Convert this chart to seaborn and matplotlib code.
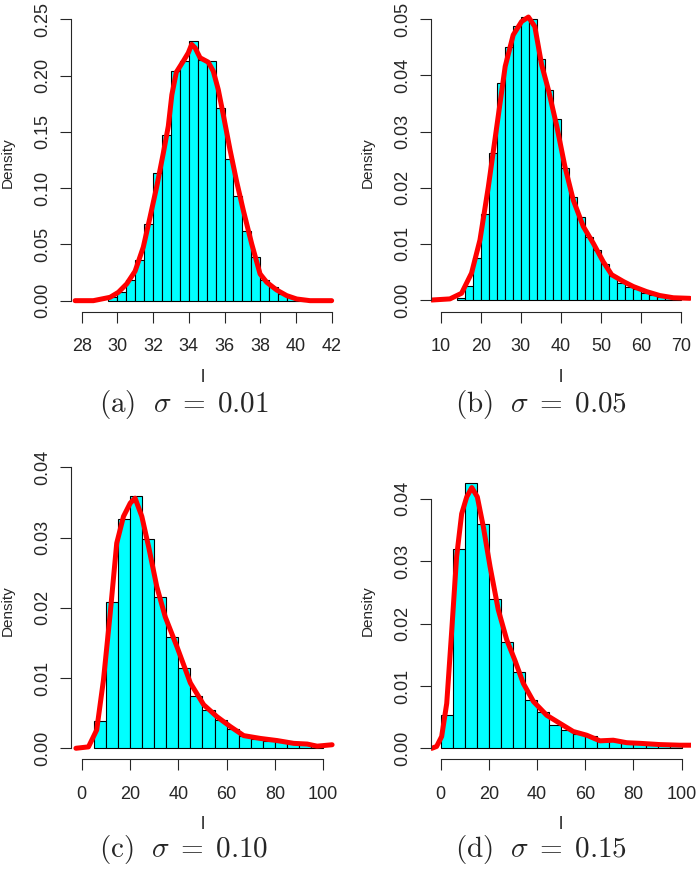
import numpy as np
import pandas as pd
import seaborn as sns
import matplotlib.pyplot as plt
from matplotlib.ticker import FormatStrFormatter

sns.set_style('ticks')
plt.rcParams['font.family'] = ['Liberation Sans', 'DejaVu Sans']
plt.rcParams['mathtext.fontset'] = 'cm'

# (a) sigma = 0.01 : histogram bins of 0.5 starting at 29.5
a_bin_start, a_bin_width = 29.5, 0.5
a_hist = [0.003, 0.008, 0.018, 0.036, 0.068, 0.113, 0.147, 0.204, 0.213, 0.231, 0.214,
          0.2125, 0.171, 0.126, 0.093, 0.062, 0.039, 0.018, 0.0125, 0.006, 0.003, 0.001]
a_kde_x = [27.63, 28.65, 29.59, 30.05, 30.52, 30.99, 31.45, 31.83, 32.20, 32.57, 32.85, 33.05,
           33.3, 33.69, 33.97, 34.16, 34.35, 34.63, 35.09, 35.37, 35.65, 35.93, 36.31, 36.68,
           37.05, 37.52, 37.99, 38.36, 38.92, 39.48, 40.04, 40.79, 42.0]
a_kde_y = [0.0, 0.0, 0.003, 0.0074, 0.0149, 0.0262, 0.0476, 0.0744, 0.1012, 0.131, 0.155, 0.183,
           0.203, 0.2128, 0.2202, 0.2277, 0.2247, 0.2158, 0.2119, 0.2039, 0.1875, 0.1652, 0.1339,
           0.1057, 0.0804, 0.0506, 0.0238, 0.0164, 0.0095, 0.0045, 0.0015, 0.0, 0.0]

# (b) sigma = 0.05 : bins of 2 starting at 14
b_bin_start, b_bin_width = 14, 2
b_hist = [0.0004, 0.0025, 0.0074, 0.0154, 0.0261, 0.0386, 0.0451, 0.0488, 0.0504, 0.0500,
          0.0429, 0.0374, 0.0322, 0.0235, 0.0184, 0.0147, 0.0113, 0.0089, 0.0065, 0.0042,
          0.0031, 0.0024, 0.0019, 0.0012, 0.0009, 0.0006, 0.0004, 0.0002]
b_kde_x = [7.75, 12.3, 15.2, 17.7, 19.8, 21.9, 24.0, 26.1, 28.1, 30.2, 31.9, 33.5, 35.2, 36.9,
           39.0, 41.0, 43.1, 45.6, 48.1, 50.6, 52.7, 55.6, 58.1, 61.4, 64.7, 68.1, 72.2]
b_kde_y = [0.0, 0.0002, 0.0012, 0.0048, 0.0107, 0.0202, 0.0309, 0.0416, 0.0472, 0.0496, 0.0504,
           0.0487, 0.0419, 0.0374, 0.0309, 0.0238, 0.0178, 0.0131, 0.0101, 0.0068, 0.0045,
           0.0033, 0.0024, 0.0015, 0.0008, 0.0004, 0.0003]

# (c) sigma = 0.10 : bins of 5 starting at 5
c_bin_start, c_bin_width = 5, 5
c_hist = [0.0039, 0.0208, 0.0326, 0.0359, 0.0298, 0.0215, 0.0158, 0.0114, 0.0074, 0.0054,
          0.0040, 0.0027, 0.0018, 0.0013, 0.0011, 0.0009, 0.0007, 0.0006, 0.0005]
c_kde_x = [-2.4, 2.8, 6.2, 9.0, 11.8, 14.5, 17.3, 20.1, 22.1, 24.9, 27.7, 31.1, 34.6, 39.4,
           45.0, 50.5, 56.0, 61.5, 67.1, 74.0, 80.9, 87.8, 93.4, 97.5, 103.7]
c_kde_y = [0.0, 0.0002, 0.0026, 0.0097, 0.0192, 0.0292, 0.0330, 0.0349, 0.0356, 0.0330, 0.0287,
           0.0230, 0.0187, 0.0145, 0.0093, 0.0062, 0.0045, 0.0031, 0.0018, 0.0014, 0.0011,
           0.0007, 0.0006, 0.0003, 0.0005]

# (d) sigma = 0.15 : bins of 5 starting at 0
d_bin_start, d_bin_width = 0, 5
d_hist = [0.0053, 0.0319, 0.0426, 0.0359, 0.0240, 0.0171, 0.0122, 0.0078, 0.0059, 0.0038,
          0.0029, 0.0023, 0.0020, 0.0012, 0.0012, 0.0009, 0.0007, 0.0006, 0.0005, 0.0005]
d_kde_x = [-3.7, -1.7, 0.4, 2.5, 4.6, 6.6, 8.7, 10.8, 12.9, 15.2, 17.7, 20.5, 23.9, 27.4, 30.8,
           34.3, 38.5, 44.0, 49.5, 55.0, 60.6, 66.1, 71.6, 77.2, 82.7, 91.0, 99.3, 104.1]
d_kde_y = [0.0, 0.0003, 0.0019, 0.0072, 0.0190, 0.0307, 0.0376, 0.0403, 0.0418, 0.0403, 0.0355,
           0.0291, 0.0222, 0.0174, 0.0141, 0.0104, 0.0075, 0.0053, 0.0040, 0.0027, 0.0021,
           0.0012, 0.0013, 0.0009, 0.0008, 0.0006, 0.0005, 0.0005]

captions = [r'$\mathrm{(a)}\ \ \sigma\;=\;0.01$', r'$\mathrm{(b)}\ \ \sigma\;=\;0.05$',
            r'$\mathrm{(c)}\ \ \sigma\;=\;0.10$', r'$\mathrm{(d)}\ \ \sigma\;=\;0.15$']

W, H = 698, 869
fig = plt.figure(figsize=(W / 100, H / 100), dpi=100)

# panel layout in pixels: left, right, top, bottom, xlim, ylim, xticks, yticks
panels = [
    (a_bin_start, a_bin_width, a_hist, a_kde_x, a_kde_y, 71, 334.5, 14, 311.7,
     (27.4, 42.16), (-0.0098, 0.2547), np.arange(28, 43, 2), np.arange(0, 0.26, 0.05)),
    (b_bin_start, b_bin_width, b_hist, b_kde_x, b_kde_y, 430.7, 691.3, 14, 311.7,
     (7.5, 72.57), (-0.00208, 0.05094), np.arange(10, 71, 10), np.arange(0, 0.051, 0.01)),
    (c_bin_start, c_bin_width, c_hist, c_kde_x, c_kde_y, 71, 334.5, 462, 759.3,
     (-4.44, 104.7), (-0.00157, 0.04075), np.arange(0, 101, 20), np.arange(0, 0.041, 0.01)),
    (d_bin_start, d_bin_width, d_hist, d_kde_x, d_kde_y, 430.7, 691.3, 462, 759.3,
     (-4.15, 104.0), (-0.00176, 0.0459), np.arange(0, 101, 20), np.arange(0, 0.041, 0.01)),
]

for i, (start, width, hist, kx, ky, l, r, t, b, xlim, ylim, xt, yt) in enumerate(panels):
    ax = fig.add_axes([l / W, 1 - b / H, (r - l) / W, (b - t) / H])
    edges = start + width * np.arange(len(hist) + 1)
    bars = pd.DataFrame({'x': edges[:-1] + width / 2, 'w': hist})
    kde = pd.DataFrame({'x': kx, 'y': ky})
    sns.histplot(data=bars, x='x', weights='w', bins=list(edges), stat='count',
                 color='#00FFFF', edgecolor='black', linewidth=0.8, alpha=1, ax=ax)
    sns.lineplot(data=kde, x='x', y='y', sort=False, color='red', linewidth=3.6, ax=ax)

    ax.set_xlim(xlim)
    ax.set_ylim(ylim)
    ax.set_xticks(xt)
    ax.set_yticks(yt)
    ax.yaxis.set_major_formatter(FormatStrFormatter('%.2f'))
    ax.xaxis.set_major_formatter(FormatStrFormatter('%d'))
    for s in ['top', 'right']:
        ax.spines[s].set_visible(False)
    ax.spines['left'].set_bounds(yt[0], yt[-1])
    ax.spines['bottom'].set_bounds(xt[0], xt[-1])
    for s in ['left', 'bottom']:
        ax.spines[s].set_linewidth(0.8)
    ax.tick_params(axis='both', direction='out', length=7.7, width=0.8, labelsize=13)
    ax.tick_params(axis='x', pad=11.5)
    ax.tick_params(axis='y', pad=6.5)
    for lab in ax.get_yticklabels():
        lab.set_rotation(90)
        lab.set_va('center')

    ax.set_ylabel('Density', fontsize=11)
    ax.yaxis.set_label_coords((15 - 71) / (r - l), 0.5)
    ax.set_xlabel('l', fontsize=13.5)
    ax.xaxis.set_label_coords(0.5, -57 / (b - t))

    cx = 184 if i % 2 == 0 else 541
    cy = 405 if i < 2 else 849
    fig.text(cx / W, 1 - cy / H, captions[i], fontsize=21, ha='center', va='center')

fig.savefig('out.png', dpi=100)
